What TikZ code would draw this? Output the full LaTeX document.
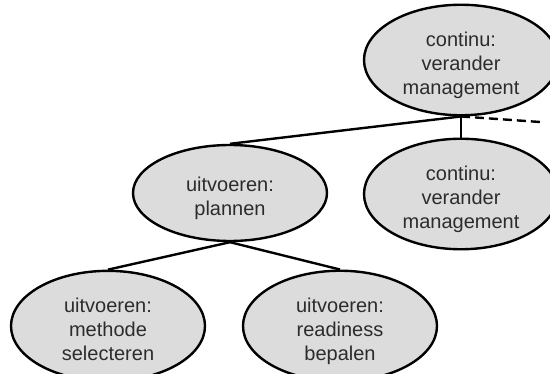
\documentclass[tikz,border=0pt]{standalone}
\usepackage{fontspec}
\setmainfont{Liberation Sans}
\usetikzlibrary{shapes.geometric}
\definecolor{bubblefill}{HTML}{DCDCDC}
\definecolor{bubbletext}{HTML}{2C2C2C}
% centred lines on a fixed 24pt grid, with struts so every label
% sits at the same place in its ellipse
\newcommand\bubblelines[1]{\vbox{\baselineskip=24pt\lineskiplimit=-20pt
  \let\\\cr
  \halign{\hfil##\rule[-4pt]{0pt}{4pt}\hfil\cr\rule{0pt}{26pt}#1\cr}}}
\tikzset{
  bubble/.style={ellipse, draw=black, line width=2.4pt, fill=bubblefill,
    minimum width=194pt, minimum height=96pt, inner sep=0pt,
    text=bubbletext, font=\fontsize{20pt}{24pt}\selectfont},
  link/.style={draw=black, line width=2.4pt},
  softlink/.style={link, dash pattern=on 9pt off 5pt}
}
\begin{document}
\begin{tikzpicture}[x=1pt,y=-1pt]
  \useasboundingbox (0,0) rectangle (550,374);
  \clip (0,0) rectangle (550,374);
  % tree of activities
  \node[bubble] (top)   at (461,60)  {\bubblelines{continu:\\verander\\management}};
  \node[bubble] (right) at (461,194) {\bubblelines{continu:\\verander\\management}};
  \node[bubble] (plan)  at (230,193) {\bubblelines{uitvoeren:\\plannen}};
  \node[bubble] (meth)  at (108,326) {\bubblelines{uitvoeren:\\methode\\selecteren}};
  \node[bubble] (ready) at (340,326) {\bubblelines{uitvoeren:\\readiness\\bepalen}};
  \coordinate (more) at (540,122);
  % connectors
  \draw[link] (top.south) -- (plan.north);
  \draw[link] (top.south) -- (right.north);
  \draw[softlink] (top.south) -- (more);
  \draw[link] (plan.south) -- (meth.north);
  \draw[link] (plan.south) -- (ready.north);
\end{tikzpicture}
\end{document}
